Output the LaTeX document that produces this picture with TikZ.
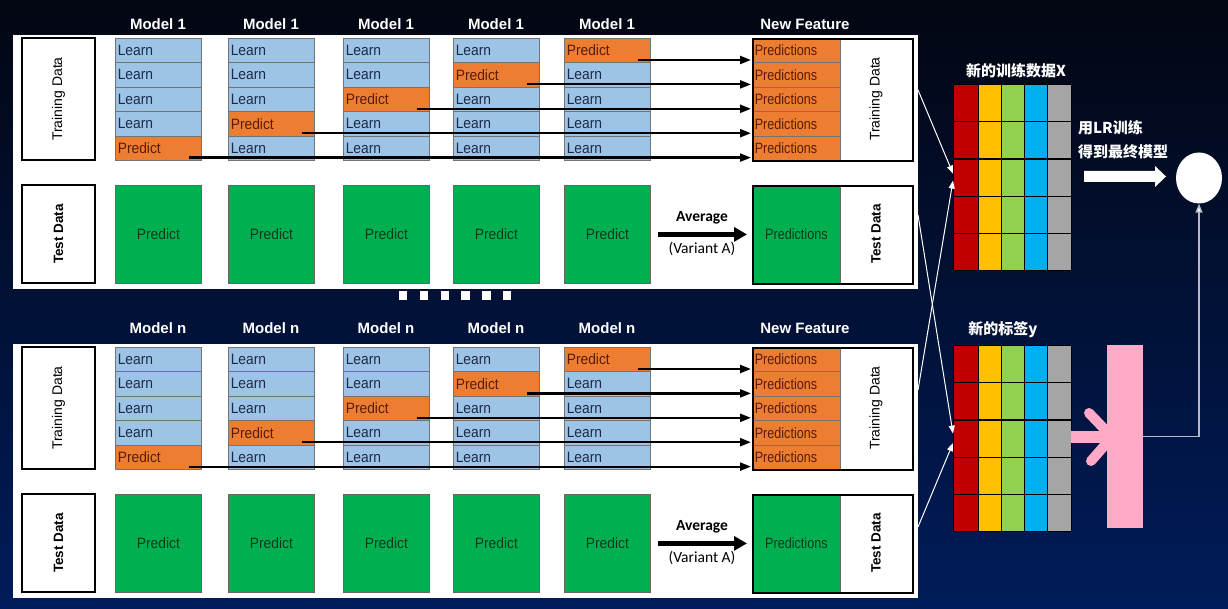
\documentclass[tikz,border=0pt]{standalone}
\usepackage{fontspec}
\setmainfont{Liberation Sans}
\newfontfamily\calfont{Carlito}
\newfontfamily\cjkfont{Noto Sans CJK SC}
\newfontfamily\cellfont{Liberation Sans}[FakeStretch=0.92]
\newfontfamily\predsfont{Liberation Sans}[FakeStretch=0.84]
\usetikzlibrary{arrows.meta,calc,shapes.geometric}
\definecolor{bgtop}{RGB}{3,6,18}
\definecolor{bgbot}{RGB}{0,28,90}
\definecolor{learnc}{HTML}{9DC3E6}
\definecolor{predc}{HTML}{ED7D31}
\definecolor{greenc}{HTML}{00B050}
\definecolor{learntxt}{HTML}{1B2A47}
\definecolor{predtxt}{HTML}{5A1C05}
\definecolor{greentxt}{HTML}{0C3A1C}
\definecolor{gred}{HTML}{C00000}
\definecolor{gyel}{HTML}{FFC000}
\definecolor{ggrn}{HTML}{92D050}
\definecolor{gblu}{HTML}{00B0F0}
\definecolor{ggry}{HTML}{A5A5A5}
\definecolor{pinkc}{HTML}{FFABC8}
\definecolor{glinec}{HTML}{B8B8C8}
\begin{document}
\begin{tikzpicture}[x=1pt,y=-1pt,
  cell/.style={draw=black!55, line width=0.6pt, anchor=north west, minimum height=24.4pt,
    inner ysep=0pt, inner xsep=2.5pt, text width=81pt, align=left, font=\cellfont\fontsize{15}{15}\selectfont},
  learn/.style={cell, fill=learnc, text=learntxt},
  predict/.style={cell, fill=predc, text=predtxt},
  predictions/.style={cell, text width=83pt, fill=predc, text=predtxt, font=\predsfont\fontsize{15}{15}\selectfont},
  greenbox/.style={draw=black!60, line width=0.8pt, fill=greenc, text=greentxt, anchor=north west,
    minimum width=86pt, minimum height=98pt, inner sep=0pt, font=\cellfont\fontsize{15}{15}\selectfont},
  labbox/.style={draw=black, line width=1.4pt, fill=white, minimum width=122pt, minimum height=73pt,
    rotate=90, inner sep=0pt, font=\fontsize{14}{16}\selectfont},
  vlab/.style={rotate=90, inner sep=0pt, font=\fontsize{14}{16}\selectfont},
  modlab/.style={text=white, font=\bfseries\fontsize{15}{17}\selectfont},
  panel/.style={fill=white, anchor=north west, minimum width=905pt, minimum height=254pt, inner sep=0pt},
  frame/.style={draw=black, line width=1.6pt, anchor=north west, minimum width=160pt, inner sep=0pt},
  flow/.style={draw=black, line width=2.2pt, -{Triangle[length=11pt,width=8pt]}},
  avg/.style={draw=black, line width=4.5pt, -{Triangle[length=13pt,width=14pt]}},
  gcell/.style={draw=black, line width=1.2pt, anchor=north west, minimum height=37.2pt, inner sep=0pt},
  cjklab/.style={text=white, inner sep=0pt, font=\cjkfont\bfseries\fontsize{15}{17}\selectfont},
  wline/.style={draw=white, line width=1pt, -{Triangle[length=8pt,width=6pt]}},
  gline/.style={draw=glinec, line width=1.4pt, -{Triangle[length=9pt,width=7pt,fill=white]}}
]
\useasboundingbox (0,0) rectangle (1228,609);
\shade[top color=bgtop, bottom color=bgbot] (0,0) rectangle (1228,609);

\foreach \pp/\dy/\lab/\ly in {U/0/1/24,L/309/n/328}{
  \node[panel] (panel\pp) at (13,{35+\dy}) {};
  \node[labbox] (tr\pp) at (58.5,{99+\dy}) {Training Data};
  \node[labbox, minimum width=98pt, font=\bfseries\fontsize{13.5}{16}\selectfont] (te\pp) at (58.5,{234+\dy}) {Test Data};
  \foreach \c/\x in {1/115,2/228,3/343,4/453,5/564}{
    \node[modlab] at ({\x+43},\ly) {Model \lab};
    \pgfmathtruncatemacro\pr{6-\c}
    \foreach \r in {1,...,5}{
      \ifnum\r=\pr
        \node[predict] (c\pp\c\r) at (\x,{38+\dy+(\r-1)*24.4}) {Predict};
      \else
        \node[learn] (c\pp\c\r) at (\x,{38+\dy+(\r-1)*24.4}) {Learn};
      \fi
    }
    \node[greenbox] (g\pp\c) at (\x,{185+\dy}) {Predict};
  }
  \node[modlab] at (805,\ly) {New Feature};
  \foreach \r in {1,...,5}{
    \node[predictions] (p\pp\r) at (752,{38+\dy+(\r-1)*24.4}) {Predictions};
  }
  \node[frame, minimum height=122pt] (nf\pp) at (752,{38+\dy}) {};
  \node[vlab] at (876,{99+\dy}) {Training Data};
  \node[greenbox, minimum width=88pt, font=\predsfont\fontsize{15}{15}\selectfont] (tg\pp) at (752,{185+\dy}) {Predictions};
  \node[frame, minimum height=98pt] (nt\pp) at (752,{185+\dy}) {};
  \node[vlab, font=\bfseries\fontsize{13.5}{16}\selectfont] at (876,{234+\dy}) {Test Data};
  \foreach \c in {1,...,5}{
    \pgfmathtruncatemacro\pr{6-\c}
    \draw[flow] ([xshift=-13pt,yshift=3pt]c\pp\c\pr.south east) -- ([xshift=-1pt,yshift=3pt]p\pp\pr.south west);
  }
  \draw[avg] ([xshift=7pt]g\pp5.east) -- ([xshift=-5pt]tg\pp.west);
  \node[font=\calfont\bfseries\fontsize{15.5}{16}\selectfont] at (702,{218+\dy}) {Average};
  \node[font=\calfont\fontsize{15.5}{16}\selectfont] at (702,{249+\dy}) {(Variant A)};
}

\foreach \i/\xx in {1/403,2/424,3/445,4/465.5,5/486.5,6/507}{
  \node[fill=white, minimum size=8.5pt, inner sep=0pt] (dot\i) at (\xx,295.5) {};
}

% grids
\foreach \g/\gy in {X/84,Y/345}{
  \foreach \cc/\cx/\cw/\col in {1/953/25/gred,2/978/23/gyel,3/1001/23/ggrn,4/1024/23/gblu,5/1047/24/ggry}{
    \foreach \r in {1,...,5}{
      \node[gcell, fill=\col, minimum width=\cw] (\g\r\cc) at (\cx,{\gy+(\r-1)*37.2}) {};
    }
  }
}
\node[cjklab] (labX) at (1016,71) {新的训练数据X};
\node[cjklab] (labY) at (1003,330) {新的标签y};
\node[cjklab, anchor=west] (lr1) at (1078,128) {用LR训练};
\node[cjklab, anchor=west] (lr2) at (1078,152) {得到最终模型};

% white connectors
\coordinate (s1) at (918,90);
\coordinate (s2) at (918,390);
\coordinate (s3) at (918,215);
\coordinate (s4) at (918,527);
\draw[wline] (s1) -- ([yshift=4pt]X31.west);
\draw[wline] (s2) -- ([yshift=-3pt]X31.west);
\draw[wline] (s3) -- ([yshift=5pt]Y31.west);
\draw[wline] (s4) -- ([yshift=-4.5pt]Y31.west);

% block arrow and circle
\fill[white] (1084,171) -- (1155,171) -- (1155,166) -- (1166,176.5) -- (1155,187) -- (1155,182) -- (1084,182) -- cycle;
\node[fill=white, ellipse, minimum width=46pt, minimum height=51pt, inner sep=0pt] (circ) at (1199,178) {};

% pink
\fill[pinkc] (1071,430.5) rectangle (1108,443);
\draw[pinkc, line width=10pt, line cap=round, line join=round] (1089,413) -- (1112,437) -- (1091,461);
\node[fill=pinkc, anchor=north west, minimum width=36pt, minimum height=183pt, inner sep=0pt] (pink) at (1107,345) {};
\draw[gline] (pink.east) -| (circ.south);
\end{tikzpicture}
\end{document}
